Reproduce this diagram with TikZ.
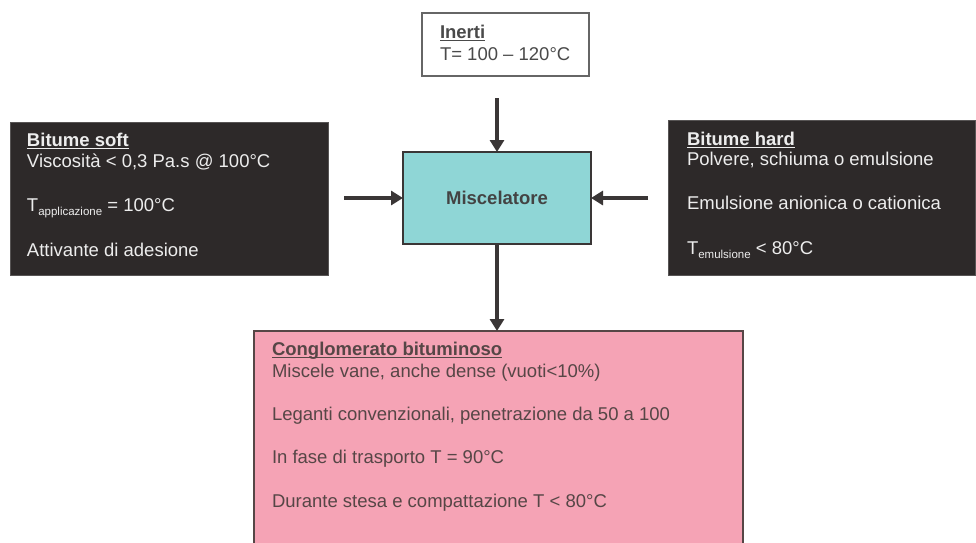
\documentclass[tikz,border=0pt]{standalone}
\usepackage{fontspec}
\setmainfont{Liberation Sans}
\usetikzlibrary{arrows.meta}
\definecolor{darkbox}{HTML}{2D2929}
\definecolor{lighttxt}{HTML}{EDEDED}
\definecolor{mixcyan}{HTML}{8FD6D6}
\definecolor{pinkbox}{HTML}{F5A3B5}
\definecolor{pinktxt}{HTML}{564646}
\definecolor{greytxt}{HTML}{4A4A4A}
\definecolor{arrowcol}{HTML}{3A3636}
\newcommand\myul[1]{\setbox0\hbox{#1}\rlap{\rule[-3pt]{\wd0}{1.4pt}}\box0}
\newcommand\mysub[1]{\raisebox{-4pt}{\fontsize{11.5}{12}\selectfont #1}}
\begin{document}
\begin{tikzpicture}[x=1pt,y=-1pt,
  every node/.style={font=\fontsize{18.5}{22}\selectfont, inner sep=0pt, outer sep=0pt},
  boxbase/.style={rectangle, anchor=north west},
  darkfill/.style={boxbase, fill=darkbox, draw=darkbox!80!white, line width=0.8pt},
  lineL/.style={anchor=base west, text=lighttxt},
  lineP/.style={anchor=base west, text=pinktxt},
  lineI/.style={anchor=base west, text=greytxt},
  flow/.style={draw=arrowcol, line width=4pt, -{Triangle[length=12pt,width=14pt]}}
]
\clip (0,0) rectangle (976,542);
\fill[white] (0,0) rectangle (976,542);

% Inerti
\node[boxbase, draw=gray!80!black, line width=1.2pt, fill=white, minimum width=167pt, minimum height=63pt] (inerti) at (422,13) {};
\node[lineI] (in1) at (440,38) {\myul{\textbf{Inerti}}};
\node[lineI] (in2) at (440,60) {T= 100 -- 120°C};

% Bitume soft
\node[darkfill, minimum width=318pt, minimum height=153pt] (soft) at (10,122) {};
\node[lineL] (s1) at (27,146) {\myul{\textbf{Bitume soft}}};
\node[lineL] (s2) at (27,167) {Viscosità < 0,3 Pa.s @ 100°C};
\node[lineL] (s3) at (27,211) {T\mysub{applicazione} = 100°C};
\node[lineL] (s4) at (27,256) {Attivante di adesione};

% Bitume hard
\node[darkfill, minimum width=307pt, minimum height=155pt] (hard) at (668,120) {};
\node[lineL] (h1) at (687,145) {\myul{\textbf{Bitume hard}}};
\node[lineL] (h2) at (687,165) {Polvere, schiuma o emulsione};
\node[lineL] (h3) at (687,209) {Emulsione anionica o cationica};
\node[lineL] (h4) at (687,254) {T\mysub{emulsione} < 80°C};

% Miscelatore
\node[rectangle, draw=arrowcol, line width=1.8pt, fill=mixcyan, minimum width=188pt, minimum height=92pt, font=\fontsize{18.5}{22}\selectfont\bfseries, text=greytxt!90!black] (misc) at (497,198) {Miscelatore};

% Conglomerato
\node[boxbase, draw=pinktxt, line width=1.4pt, fill=pinkbox, minimum width=489pt, minimum height=220pt] (cong) at (254,331) {};
\node[lineP] (c1) at (272,355) {\myul{\textbf{Conglomerato bituminoso}}};
\node[lineP] (c2) at (272,377) {Miscele vane, anche dense (vuoti<10\%)};
\node[lineP] (c3) at (272,420) {Leganti convenzionali, penetrazione da 50 a 100};
\node[lineP] (c4) at (272,463) {In fase di trasporto T = 90°C};
\node[lineP] (c5) at (272,507) {Durante stesa e compattazione T < 80°C};

% connectors
\coordinate (topstart) at (497,98);
\coordinate (leftstart) at (344,198);
\coordinate (rightstart) at (648,198);
\draw[flow] (topstart) -- (misc.north);
\draw[flow] (leftstart) -- (misc.west);
\draw[flow] (rightstart) -- (misc.east);
\draw[flow] (misc.south) -- (misc.south |- cong.north);
\end{tikzpicture}
\end{document}
